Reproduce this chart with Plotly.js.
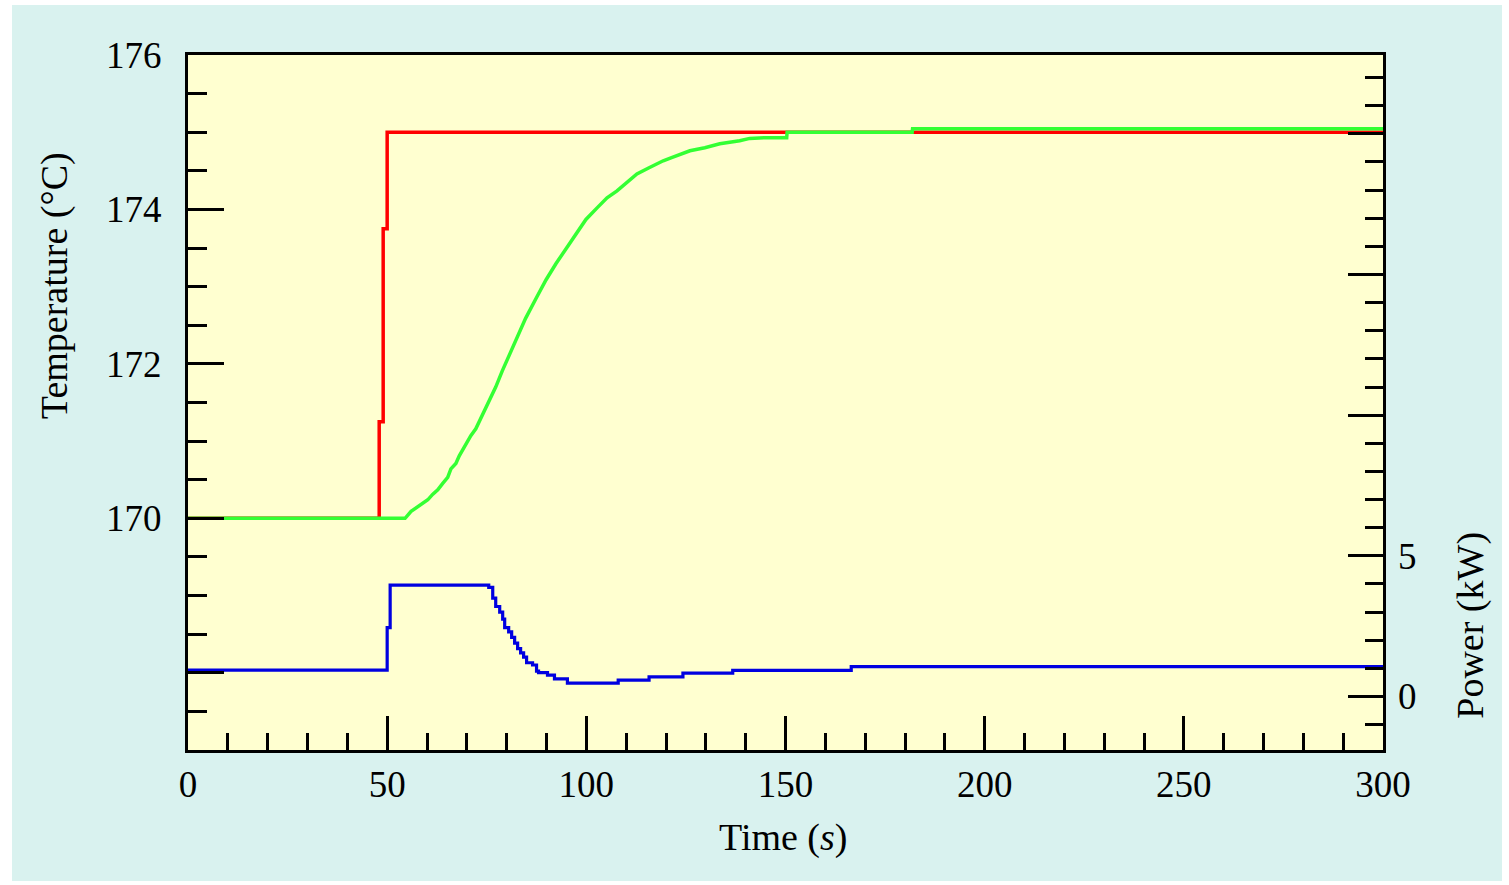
<!DOCTYPE html>
<html>
<head>
<meta charset="utf-8">
<script src="https://cdn.plot.ly/plotly-3.0.1.min.js"></script>
<style>
  html, body { margin: 0; padding: 0; background: #ffffff; }
  #chart { position: absolute; left: 12px; top: 5px; width: 1490px; height: 876px; }
</style>
</head>
<body>
<div id="chart"></div>
<script>
// Setpoint temperature (°C), step trace
const setpointTime = [0, 48, 49, 50, 300];
const setpointTemp = [170, 171.25, 173.75, 175, 175];

// Measured temperature (°C)
const measuredTime = [0, 54.5, 56, 58.5, 60.2, 61.4, 62.7, 63.9, 65.2, 66, 67.25, 68.1, 69.3, 71, 72.25, 73.9, 74.75, 76.4, 77.25, 78.9, 80.6, 82.25, 84.75, 87.4, 89.9, 92.4, 94.9, 97.4, 99.9, 102.7, 105.2, 107.7, 110.2, 112.7, 115.75, 119.3, 121.4, 123.5, 126, 129.75, 133.5, 138.5, 141, 145, 150.3, 150.4, 181.8, 181.9, 300];
const measuredTemp = [170, 170, 170.09, 170.18, 170.24, 170.31, 170.37, 170.45, 170.53, 170.64, 170.71, 170.81, 170.92, 171.07, 171.16, 171.33, 171.44, 171.59, 171.70, 171.91, 172.10, 172.29, 172.59, 172.85, 173.09, 173.30, 173.49, 173.70, 173.87, 174.02, 174.15, 174.24, 174.35, 174.46, 174.54, 174.63, 174.67, 174.71, 174.76, 174.80, 174.85, 174.89, 174.92, 174.93, 174.93, 175.0, 175.0, 175.045, 175.045];

// Heater power (kW), step trace
const powerTime = [0, 50, 50.75, 75.5, 76.5, 77.25, 78.25, 79, 79.5, 80.5, 81.25, 82, 82.75, 83.5, 84.25, 85, 86.5, 87.5, 88, 90.25, 92, 95.25, 108, 115.75, 124.25, 136.75, 166.5, 300];
const powerKW = [0.94, 2.45, 3.96, 3.88, 3.5, 3.2, 3.0, 2.75, 2.45, 2.3, 2.1, 1.9, 1.7, 1.55, 1.4, 1.2, 1.12, 0.9, 0.85, 0.76, 0.63, 0.48, 0.58, 0.70, 0.83, 0.93, 1.06, 1.06];

// Axis ticks / labels
const timeTicks = [0, 50, 100, 150, 200, 250, 300];
const tempTicks = [168, 170, 172, 174, 176];
const tempTickText = ['', '170', '172', '174', '176'];
const powerTicks = [0, 5, 10, 15, 20];
const powerTickText = ['0', '5', '', '', ''];

const tickFont = {family: 'Liberation Serif, DejaVu Serif, serif', size: 37, color: '#000'};
const titleFont = {family: 'Liberation Serif, DejaVu Serif, serif', size: 38, color: '#000'};

const traces = [
  {x: setpointTime, y: setpointTemp, type: 'scatter', mode: 'lines', line: {color: '#ff0000', width: 3.5, shape: 'hv'}, yaxis: 'y', hoverinfo: 'skip'},
  {x: measuredTime, y: measuredTemp, type: 'scatter', mode: 'lines', line: {color: '#33ff33', width: 3.5}, yaxis: 'y', hoverinfo: 'skip'},
  {x: powerTime, y: powerKW, type: 'scatter', mode: 'lines', line: {color: '#0000e0', width: 3.2, shape: 'hv'}, yaxis: 'y2', hoverinfo: 'skip'}
];

const layout = {
  width: 1490, height: 876,
  margin: {l: 176, r: 119, t: 50, b: 131},
  paper_bgcolor: '#d9f2ef',
  plot_bgcolor: '#ffffd0',
  showlegend: false,
  xaxis: {
    range: [0, 300], showgrid: false, zeroline: false,
    showline: true, linecolor: '#000', linewidth: 3, mirror: true,
    tickmode: 'array', tickvals: timeTicks, ticks: 'inside', ticklen: 34, tickwidth: 3, tickcolor: '#000',
    minor: {tickmode: 'linear', tick0: 0, dtick: 10, ticks: 'inside', ticklen: 17, tickwidth: 3, tickcolor: '#000', showgrid: false},
    tickfont: tickFont, ticklabelstandoff: 0
  },
  xaxis2: {
    overlaying: 'x', side: 'top', anchor: 'y', range: [0, 300],
    showgrid: false, zeroline: false, showline: false, showticklabels: false,
    tickmode: 'linear', tick0: 0, dtick: 10, ticks: 'inside', ticklen: 20, tickwidth: 3, tickcolor: '#000'
  },
  yaxis: {
    range: [167, 176], showgrid: false, zeroline: false,
    showline: true, linecolor: '#000', linewidth: 3, mirror: true,
    tickmode: 'array', tickvals: tempTicks, ticktext: tempTickText,
    ticks: 'inside', ticklen: 36, tickwidth: 3, tickcolor: '#000',
    minor: {tickmode: 'linear', tick0: 0, dtick: 0.5, ticks: 'inside', ticklen: 19, tickwidth: 3, tickcolor: '#000', showgrid: false},
    tickfont: tickFont, ticklabelstandoff: 16
  },
  yaxis2: {
    overlaying: 'y', side: 'right', anchor: 'x', range: [-1.9, 22.8],
    showgrid: false, zeroline: false, showline: false,
    tickmode: 'array', tickvals: powerTicks, ticktext: powerTickText,
    ticks: 'inside', ticklen: 35, tickwidth: 3, tickcolor: '#000',
    minor: {tickmode: 'linear', tick0: 0, dtick: 1, ticks: 'inside', ticklen: 18, tickwidth: 3, tickcolor: '#000', showgrid: false},
    tickfont: tickFont, ticklabelstandoff: 14
  },
  annotations: [
    {text: 'Temperature (°C)', xref: 'paper', yref: 'paper', x: -0.1118, y: 0.668, xanchor: 'center', yanchor: 'middle', textangle: -90, showarrow: false, font: titleFont},
    {text: 'Power (kW)', xref: 'paper', yref: 'paper', x: 1.0735, y: 0.18, xanchor: 'center', yanchor: 'middle', textangle: -90, showarrow: false, font: titleFont},
    {text: 'Time (<i>s</i>)', xref: 'paper', yref: 'paper', x: 0.4975, y: -0.126, xanchor: 'center', yanchor: 'middle', showarrow: false, font: titleFont}
  ]
};

Plotly.newPlot('chart', traces, layout, {displayModeBar: false, staticPlot: true});
</script>
</body>
</html>
